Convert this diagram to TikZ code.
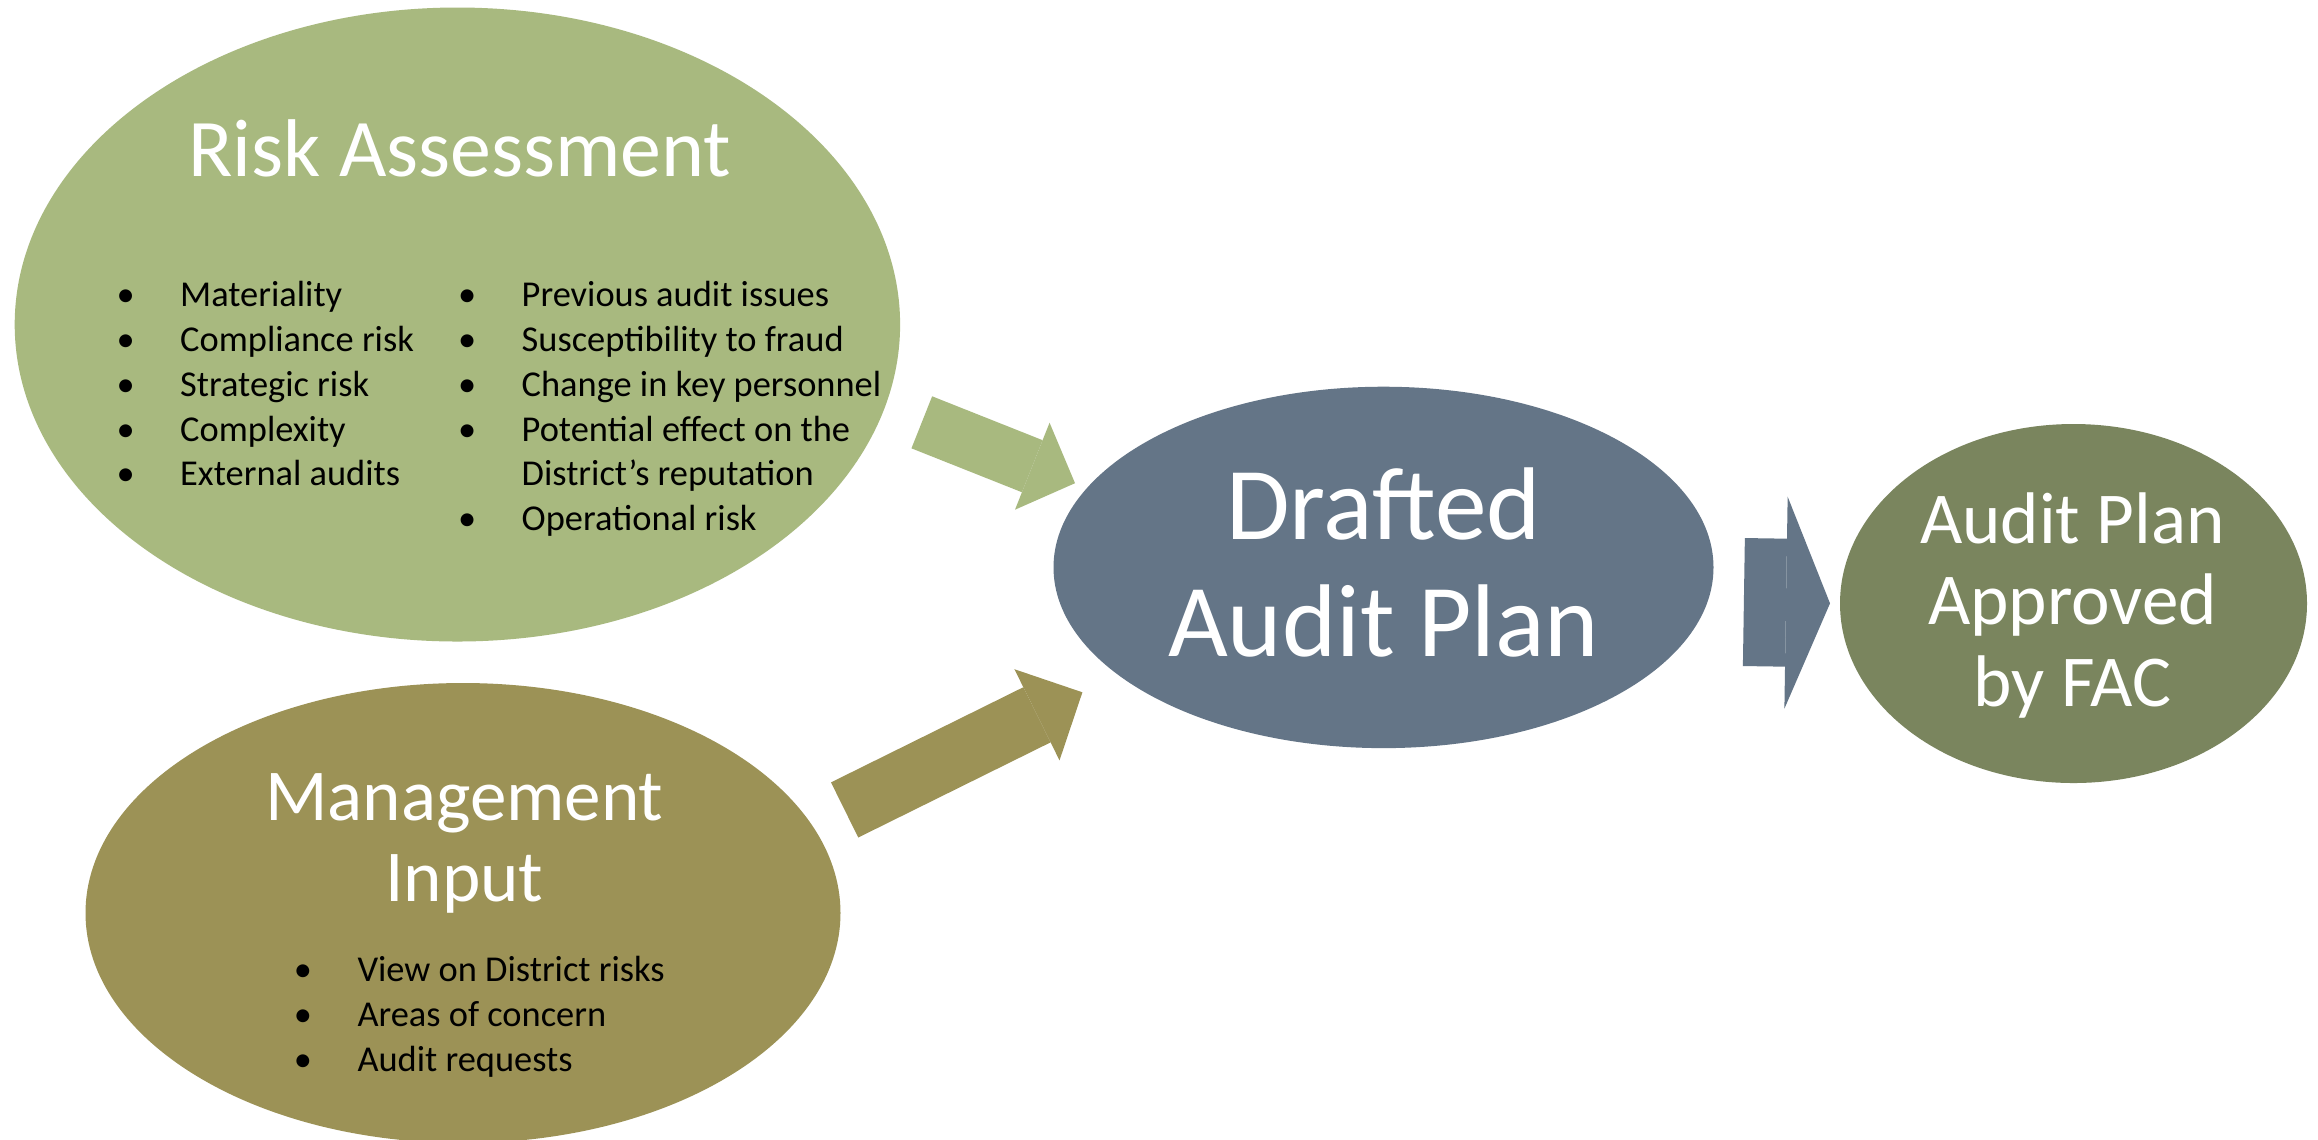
\documentclass[tikz,border=0pt]{standalone}
\usepackage{fontspec}
\setmainfont{Carlito}
\usepackage{array}
\usetikzlibrary{arrows.meta,shapes.geometric}

\definecolor{riskgreen}{HTML}{A8B97F}
\definecolor{draftblue}{HTML}{647587}
\definecolor{approvedgreen}{HTML}{7A855E}
\definecolor{mgmtolive}{HTML}{9C9256}
\newcolumntype{B}{@{}wc{0.2cm}@{\hspace{0.445cm}}}

\begin{document}
\begin{tikzpicture}[
        blob/.style={ellipse,inner sep=0pt,outer sep=0pt},
        heading/.style={text=white,anchor=base,align=center,inner sep=0pt},
        bullets/.style={anchor=base west,inner sep=0pt,
                        font=\fontsize{10.36pt}{12.77pt}\selectfont},
        flowarrow/.style n args={3}{line width=#1,
                        -{Triangle[length=#2,width=#3,line width=0pt]}}]
    \useasboundingbox[fill=white] (0,0) rectangle (23.18,-11.39);

    \node[blob,fill=riskgreen,minimum width=8.854cm,minimum height=6.34cm]
          (risk) at (4.574,-3.245) {};
    \node[blob,fill=draftblue,minimum width=6.60cm,minimum height=3.614cm]
          (draft) at (13.835,-5.674) {};
    \node[blob,fill=approvedgreen,minimum width=4.67cm,minimum height=3.59cm]
          (approved) at (20.735,-6.035) {};
    \node[blob,fill=mgmtolive,minimum width=7.55cm,minimum height=4.60cm]
          (mgmt) at (4.63,-9.13) {};

    % headings sit on the baseline of their last line
    \node[heading,font=\fontsize{23.3pt}{28pt}\selectfont] (risktitle)
          at (4.598,-1.768) {Risk Assessment};
    \node[bullets] (riskleft) at (1.15,-3.064) {\begin{tabular}[t]{Bl@{}}
        \textbullet & Materiality\\
        \textbullet & Compliance risk\\
        \textbullet & Strategic risk\\
        \textbullet & Complexity\\
        \textbullet & External audits
    \end{tabular}};
    \node[bullets] (riskright) at (4.565,-3.064) {\begin{tabular}[t]{Bl@{}}
        \textbullet & Previous audit issues\\
        \textbullet & Susceptibility to fraud\\
        \textbullet & Change in key personnel\\
        \textbullet & Potential effect on the\\
                    & District’s reputation\\
        \textbullet & Operational risk
    \end{tabular}};

    \node[heading,font=\fontsize{29.4pt}{33.4pt}\selectfont] (drafttitle)
          at (13.835,-6.567) {Drafted\\Audit Plan};
    \node[heading,font=\fontsize{20.8pt}{23.1pt}\selectfont] (approvedtitle)
          at (20.725,-7.06) {Audit Plan\\Approved\\by FAC};

    \node[heading,font=\fontsize{20.8pt}{23.2pt}\selectfont] (mgmttitle)
          at (4.643,-9.017) {Management\\Input};
    \node[bullets] (mgmtlist) at (2.923,-9.817) {\begin{tabular}[t]{Bl@{}}
        \textbullet & View on District risks\\
        \textbullet & Areas of concern\\
        \textbullet & Audit requests
    \end{tabular}};

    \draw[flowarrow={0.56cm}{0.46cm}{0.936cm},riskgreen,
          shorten <=0.40cm,shorten >=0.13cm] (risk.-11.84) -- (draft.165.7);
    \draw[flowarrow={0.615cm}{0.507cm}{1.017cm},mgmtolive,
          shorten <=0.36cm,shorten >=0.397cm] (mgmt.14.35) -- (draft.202.7);
    \draw[flowarrow={1.28cm}{0.44cm}{2.12cm},draftblue,
          shorten <=0.363cm,shorten >=0.10cm] (draft.-6.45) -- (approved.180);
\end{tikzpicture}
\end{document}
